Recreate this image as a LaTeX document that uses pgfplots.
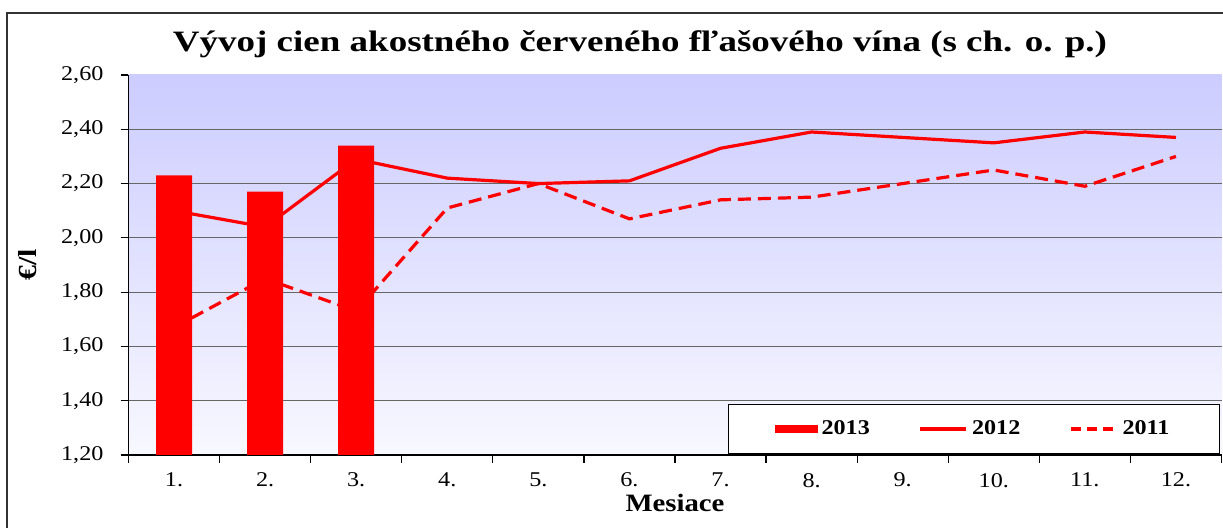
\documentclass[border=0pt]{standalone}
\usepackage{fontspec}
\setmainfont{Liberation Serif}[FakeStretch=1.15]
\newfontfamily\titlefont{Liberation Serif}[FakeStretch=1.25]
\usepackage{pgfplots}
\pgfplotsset{compat=1.18}
\definecolor{bgtop}{RGB}{204,204,255}
\definecolor{bgbot}{RGB}{248,248,255}

\begin{document}
\begin{tikzpicture}
\useasboundingbox (0,0) rectangle (611.5pt,-264pt);
\draw[black!80, line width=0.6pt] (3.5pt,-264pt) -- (3.5pt,-6.5pt) -- (611.5pt,-6.5pt);
\node[font=\titlefont\fontsize{14.8}{17}\selectfont\bfseries, anchor=base] at (320pt,-26pt)
  {Vývoj cien akostného červeného fľašového vína (s ch. o. p.)};
\begin{axis}[
  at={(64.25pt,-227.5pt)}, anchor=south west,
  width=546.5pt, height=190pt, scale only axis,
  xmin=0.5, xmax=12.5, ymin=1.2, ymax=2.6,
  axis lines*=left,
  axis line style={black, line width=0.6pt},
  axis background/.style={top color=bgtop, bottom color=bgbot},
  xtick={0.5,1.5,2.5,3.5,4.5,5.5,6.5,7.5,8.5,9.5,10.5,11.5,12.5},
  x tick label as interval,
  xticklabels={1.,2.,3.,4.,5.,6.,7.,8.,9.,10.,11.,12.},
  ytick={1.2,1.4,1.6,1.8,2.0,2.2,2.4},
  extra y ticks={2.6}, extra y tick style={grid=none},
  ymajorgrids, grid style={black!60, line width=0.6pt},
  tick align=outside, major tick length=4pt,
  tick style={black, line width=0.6pt},
  /pgf/number format/use comma,
  /pgf/number format/fixed,
  /pgf/number format/fixed zerofill,
  /pgf/number format/precision=2,
  /pgf/number format/assume math mode=true,
  every tick label/.append style={font=\fontsize{10.5}{12}\selectfont},
  y tick label style={xshift=-5pt},
  x tick label style={yshift=-1.5pt},
  xlabel={Mesiace},
  x label style={font=\fontsize{12.5}{14}\selectfont\bfseries, at={(axis description cs:0.5,-0.149)}, anchor=base},
  ylabel={€/l},
  y label style={font=\fontsize{13}{15}\selectfont\bfseries, at={(axis description cs:-0.092,0.5)}, anchor=center},
  reverse legend,
  legend columns=3,
  legend style={at={(rel axis cs:0.9986,0.003)}, anchor=south east, draw=black, fill=white,
    font=\fontsize{10.5}{12}\selectfont\bfseries, inner xsep=23pt, inner ysep=6pt,
    /tikz/every even column/.append style={column sep=22.5pt}},
]
\addplot[red, line width=1.6pt, dash pattern=on 6.5pt off 3.5pt,
  legend image code/.code={\draw[red, line width=1.6pt, dash pattern=on 5pt off 3pt] (0pt,0pt) -- (23pt,0pt);}]
  coordinates {(1,1.67) (2,1.85) (3,1.73) (4,2.11) (5,2.20) (6,2.07) (7,2.14) (8,2.15) (9,2.20) (10,2.25) (11,2.19) (12,2.30)};
\addlegendentry{2011}
\addplot[red, line width=1.6pt,
  legend image code/.code={\draw[red, line width=1.6pt] (0pt,0pt) -- (23pt,0pt);}]
  coordinates {(1,2.10) (2,2.04) (3,2.29) (4,2.22) (5,2.20) (6,2.21) (7,2.33) (8,2.39) (9,2.37) (10,2.35) (11,2.39) (12,2.37)};
\addlegendentry{2012}
\addplot[ybar, bar width=18pt, fill=red, draw=none,
  legend image code/.code={\fill[red] (0pt,-2pt) rectangle (21.5pt,2pt);}]
  coordinates {(1,2.23) (2,2.17) (3,2.34)};
\addlegendentry{2013}
\end{axis}
\end{tikzpicture}
\end{document}
